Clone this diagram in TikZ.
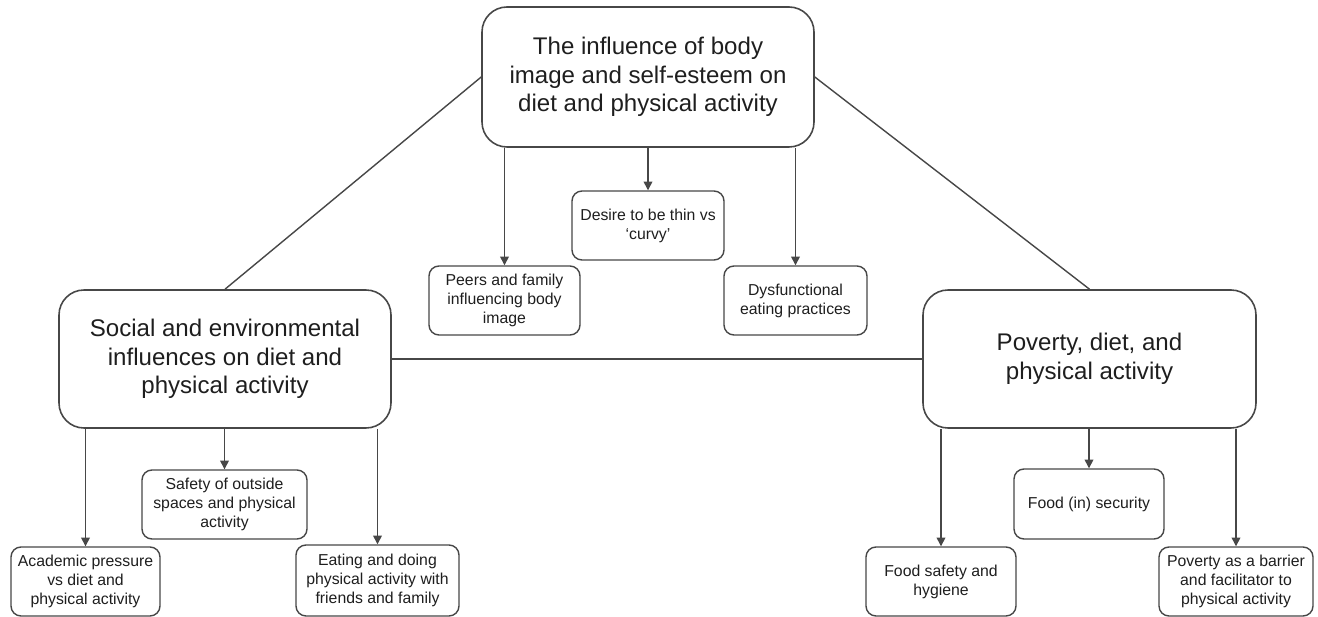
\documentclass[tikz,border=0pt]{standalone}
\usepackage{fontspec}
\setmainfont{Liberation Sans}
\usetikzlibrary{arrows.meta}
\definecolor{ln}{HTML}{474747}
\definecolor{tx}{HTML}{1E1E1E}
\begin{document}
\begin{tikzpicture}[x=0.02cm,y=-0.02cm,
  bigbox/.style={draw=ln,line width=0.9pt,rounded corners=0.5cm,align=center,text=tx,
    font=\fontsize{13.7}{16.3}\selectfont,inner sep=0pt},
  smallbox/.style={draw=ln,line width=0.8pt,rounded corners=0.2cm,align=center,text=tx,
    font=\fontsize{9}{10.8}\selectfont,inner sep=0pt},
  link/.style={draw=ln,line width=0.8pt},
  arr/.style={draw=ln,line width=0.8pt,-{Triangle[length=5pt,width=5pt]}}]
\useasboundingbox (0,0) rectangle (1318,617);
\node[bigbox,minimum width=332*0.02cm,minimum height=140*0.02cm] (top) at (648,77)
  {The influence of body\\image and self-esteem on\\diet and physical activity};
\node[bigbox,minimum width=332*0.02cm,minimum height=138*0.02cm] (left) at (225,359)
  {Social and environmental\\influences on diet and\\physical activity};
\node[bigbox,minimum width=333*0.02cm,minimum height=138*0.02cm] (right) at (1089.5,359)
  {Poverty, diet, and\\physical activity};
\node[smallbox,minimum width=151*0.02cm,minimum height=69*0.02cm] (peers) at (504.5,300.5)
  {Peers and family\\influencing body\\image};
\node[smallbox,minimum width=152*0.02cm,minimum height=69*0.02cm] (desire) at (648,225.5)
  {Desire to be thin vs\\‘curvy’};
\node[smallbox,minimum width=143*0.02cm,minimum height=69*0.02cm] (dysf) at (795.5,300.5)
  {Dysfunctional\\eating practices};
\node[smallbox,minimum width=149*0.02cm,minimum height=69*0.02cm] (acad) at (85.5,581.5)
  {Academic pressure\\vs diet and\\physical activity};
\node[smallbox,minimum width=165*0.02cm,minimum height=69*0.02cm] (safety) at (224.5,504.5)
  {Safety of outside\\spaces and physical\\activity};
\node[smallbox,minimum width=163*0.02cm,minimum height=71*0.02cm] (eating) at (377.5,580.5)
  {Eating and doing\\physical activity with\\friends and family};
\node[smallbox,minimum width=150*0.02cm,minimum height=69*0.02cm] (fsafe) at (941,581.5)
  {Food safety and\\hygiene};
\node[smallbox,minimum width=150*0.02cm,minimum height=70*0.02cm] (fsec) at (1089,504)
  {Food (in) security};
\node[smallbox,minimum width=154*0.02cm,minimum height=69*0.02cm] (pov) at (1236,581.5)
  {Poverty as a barrier\\and facilitator to\\physical activity};
\draw[link] (top.west) -- (left.north);
\draw[link] (top.east) -- (right.north);
\draw[link] (left.east) -- (right.west);
\draw[arr] (top.south -| peers.north) -- (peers.north);
\draw[arr] (top.south -| desire.north) -- (desire.north);
\draw[arr] (top.south -| dysf.north) -- (dysf.north);
\draw[arr] (left.south -| acad.north) -- (acad.north);
\draw[arr] (left.south -| safety.north) -- (safety.north);
\draw[arr] (left.south -| eating.north) -- (eating.north);
\draw[arr] (right.south -| fsafe.north) -- (fsafe.north);
\draw[arr] (right.south -| fsec.north) -- (fsec.north);
\draw[arr] (right.south -| pov.north) -- (pov.north);
\end{tikzpicture}
\end{document}
